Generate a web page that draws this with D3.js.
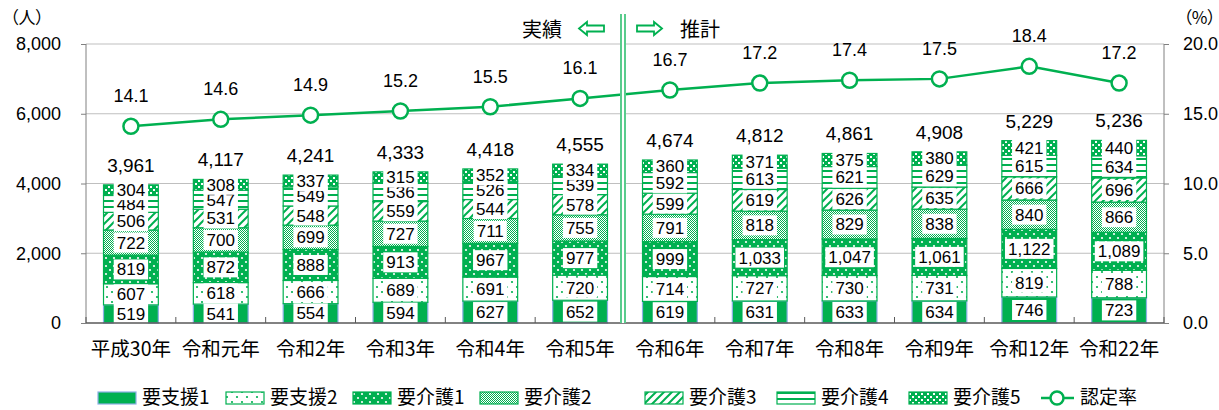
<!DOCTYPE html>
<html>
<head>
<meta charset="utf-8">
<script src="https://cdn.jsdelivr.net/npm/d3@7"></script>
<style>
  body { margin: 0; background: #fff; }
  svg { display: block; }
  .num { font-family: "Liberation Sans", Arial, sans-serif; }
  .jp { font-family: "Noto Sans CJK JP", sans-serif; }
  .palt { font-feature-settings: "palt"; }
</style>
</head>
<body>
<div id="chart"></div>
<script>
const years = ["平成30年", "令和元年", "令和2年", "令和3年", "令和4年", "令和5年",
  "令和6年", "令和7年", "令和8年", "令和9年", "令和12年", "令和22年"];
const levels = ["要支援1", "要支援2", "要介護1", "要介護2", "要介護3", "要介護4", "要介護5"];

const shien1 = [519, 541, 554, 594, 627, 652, 619, 631, 633, 634, 746, 723];
const shien2 = [607, 618, 666, 689, 691, 720, 714, 727, 730, 731, 819, 788];
const kaigo1 = [819, 872, 888, 913, 967, 977, 999, 1033, 1047, 1061, 1122, 1089];
const kaigo2 = [722, 700, 699, 727, 711, 755, 791, 818, 829, 838, 840, 866];
const kaigo3 = [506, 531, 548, 559, 544, 578, 599, 619, 626, 635, 666, 696];
const kaigo4 = [484, 547, 549, 536, 526, 539, 592, 613, 621, 629, 615, 634];
const kaigo5 = [304, 308, 337, 315, 352, 334, 360, 371, 375, 380, 421, 440];
const totals = [3961, 4117, 4241, 4333, 4418, 4555, 4674, 4812, 4861, 4908, 5229, 5236];
const rate = [14.1, 14.6, 14.9, 15.2, 15.5, 16.1, 16.7, 17.2, 17.4, 17.5, 18.4, 17.2];

const leftTicks = [0, 2000, 4000, 6000, 8000];
const rightTicks = [0, 5, 10, 15, 20];

const series = [shien1, shien2, kaigo1, kaigo2, kaigo3, kaigo4, kaigo5];
const rows = years.map((y, i) => {
  const r = { year: y };
  levels.forEach((k, j) => r[k] = series[j][i]);
  return r;
});

const width = 1219, height = 410;
const green = "#00b050";

const svg = d3.select("#chart").append("svg")
  .attr("width", width).attr("height", height);

// patterns
const defs = svg.append("defs");
function pat(id, w, h) {
  return defs.append("pattern").attr("id", id)
    .attr("patternUnits", "userSpaceOnUse").attr("width", w).attr("height", h);
}
// 要支援2: white with sparse green dots
let p = pat("p1", 10, 10);
p.append("rect").attr("width", 10).attr("height", 10).attr("fill", "#fff");
p.append("circle").attr("cx", 2).attr("cy", 2).attr("r", 1.1).attr("fill", green);
p.append("circle").attr("cx", 7).attr("cy", 7).attr("r", 1.1).attr("fill", green);
// 要介護1: green with white dots
p = pat("p2", 8, 8);
p.append("rect").attr("width", 8).attr("height", 8).attr("fill", green);
p.append("circle").attr("cx", 2).attr("cy", 2).attr("r", 1.1).attr("fill", "#fff");
p.append("circle").attr("cx", 6).attr("cy", 6).attr("r", 1.1).attr("fill", "#fff");
// 要介護2: fine mesh
p = pat("p3", 2, 2);
p.append("rect").attr("width", 2).attr("height", 2).attr("fill", "#fff");
p.append("rect").attr("width", 1).attr("height", 1).attr("fill", green);
p.append("rect").attr("x", 1).attr("y", 1).attr("width", 1).attr("height", 1).attr("fill", green);
// 要介護3: diagonal stripes
p = pat("p4", 8, 8);
p.append("rect").attr("width", 8).attr("height", 8).attr("fill", "#fff");
p.append("path").attr("d", "M-2,2 L2,-2 M0,8 L8,0 M6,10 L10,6")
  .attr("stroke", green).attr("stroke-width", 2);
// 要介護4: horizontal lines
p = pat("p5", 6, 6);
p.append("rect").attr("width", 6).attr("height", 6).attr("fill", "#fff");
p.append("rect").attr("y", 2).attr("width", 6).attr("height", 2).attr("fill", green);
// 要介護5: green with white small checks
p = pat("p6", 6, 6);
p.append("rect").attr("width", 6).attr("height", 6).attr("fill", green);
p.append("rect").attr("x", 0).attr("y", 0).attr("width", 2).attr("height", 2).attr("fill", "#fff");
p.append("rect").attr("x", 3).attr("y", 3).attr("width", 2).attr("height", 2).attr("fill", "#fff");

const fills = [green, "url(#p1)", "url(#p2)", "url(#p3)", "url(#p4)", "url(#p5)", "url(#p6)"];
const strokes = ["#8cb0e4", green, green, green, green, green, green];

const x = d3.scaleBand().domain(years).range([86, 1164]).padding(0);
const barW = x.bandwidth() * 0.61;
const y = d3.scaleLinear().domain([0, 8000]).range([323, 44]);
const yR = d3.scaleLinear().domain([0, 20]).range([323, 44]);

// gridlines
svg.append("g").selectAll("line").data(leftTicks.slice(1)).join("line")
  .attr("x1", 86).attr("x2", 1164)
  .attr("y1", d => y(d)).attr("y2", d => y(d))
  .attr("stroke", "#bfbfbf").attr("stroke-width", 1);

// stacked bars
const stack = d3.stack().keys(levels)(rows);
const layer = svg.append("g").selectAll("g").data(stack).join("g")
  .attr("fill", (d, i) => fills[i])
  .attr("stroke", (d, i) => strokes[i])
  .attr("stroke-width", 1.2);
layer.selectAll("rect").data(d => d).join("rect")
  .attr("x", d => x(d.data.year) + (x.bandwidth() - barW) / 2)
  .attr("width", barW)
  .attr("y", d => y(d[1]))
  .attr("height", d => y(d[0]) - y(d[1]));

// segment labels
const lab = svg.append("g").attr("class", "num").attr("font-size", 17);
stack.forEach(s => {
  s.forEach(d => {
    const cx = x(d.data.year) + x.bandwidth() / 2;
    const cy = (y(d[0]) + y(d[1])) / 2;
    const g = lab.append("g");
    const t = g.append("text").attr("x", cx).attr("y", cy + 6)
      .attr("text-anchor", "middle").attr("fill", "#000")
      .text(d3.format(",")(d[1] - d[0]));
    const b = t.node().getBBox();
    g.insert("rect", "text").attr("x", b.x - 3).attr("y", cy - 10)
      .attr("width", b.width + 6).attr("height", 20).attr("fill", "#fff");
  });
});

// totals
svg.append("g").attr("class", "num").attr("font-size", 19)
  .selectAll("text").data(totals).join("text")
  .attr("x", (d, i) => x(years[i]) + x.bandwidth() / 2)
  .attr("y", d => y(d) - 13)
  .attr("text-anchor", "middle").attr("fill", "#000")
  .text(d => d3.format(",")(d));

// axes
const axL = svg.append("g").attr("transform", "translate(86,0)")
  .call(d3.axisLeft(y).tickValues(leftTicks).tickFormat(d3.format(",")).tickSize(5).tickPadding(20));
const axR = svg.append("g").attr("transform", "translate(1164,0)")
  .call(d3.axisRight(yR).tickValues(rightTicks).tickFormat(d3.format(".1f")).tickSize(5).tickPadding(14));
[axL, axR].forEach(a => {
  a.select(".domain").attr("stroke", "#808080");
  a.selectAll(".tick line").attr("stroke", "#808080");
  a.selectAll("text").attr("class", "num").attr("font-size", 18).attr("fill", "#000");
});
axL.select(".domain").attr("d", "M0,44V323");
axR.select(".domain").attr("d", "M0,44V323");

// bottom axis
svg.append("line").attr("x1", 86).attr("x2", 1164).attr("y1", 323).attr("y2", 323)
  .attr("stroke", "#595959").attr("stroke-width", 1.5);
svg.append("g").selectAll("line").data(d3.range(years.length + 1)).join("line")
  .attr("x1", i => 86 + i * x.bandwidth()).attr("x2", i => 86 + i * x.bandwidth())
  .attr("y1", 323).attr("y2", 317).attr("stroke", "#595959");
svg.append("g").attr("class", "jp").attr("font-size", 19.5)
  .selectAll("text").data(years).join("text")
  .attr("x", d => x(d) + x.bandwidth() / 2).attr("y", 356)
  .attr("text-anchor", "middle").attr("fill", "#000").text(d => d);

// rate line
const line = d3.line().x((d, i) => x(years[i]) + x.bandwidth() / 2).y(d => yR(d));
svg.append("path").datum(rate).attr("d", line)
  .attr("fill", "none").attr("stroke", green).attr("stroke-width", 2.5);
svg.append("g").selectAll("circle").data(rate).join("circle")
  .attr("cx", (d, i) => x(years[i]) + x.bandwidth() / 2).attr("cy", d => yR(d))
  .attr("r", 7.5).attr("fill", "#fff").attr("stroke", green).attr("stroke-width", 2.5);
svg.append("g").attr("class", "num").attr("font-size", 18)
  .selectAll("text").data(rate).join("text")
  .attr("x", (d, i) => x(years[i]) + x.bandwidth() / 2).attr("y", d => yR(d) - 24)
  .attr("text-anchor", "middle").attr("fill", "#000").text(d => d.toFixed(1));

// divider between actual and projection
const sep = x(years[6]) - 2;
svg.append("rect").attr("x", sep - 3).attr("y", 14).attr("width", 6).attr("height", 309).attr("fill", "#fff");
[sep - 2, sep + 2].forEach(px => svg.append("line")
  .attr("x1", px).attr("x2", px).attr("y1", 14).attr("y2", 323)
  .attr("stroke", green).attr("stroke-width", 1.3));

// header
svg.append("text").attr("class", "jp").attr("font-size", 20).attr("x", 542).attr("y", 37)
  .attr("text-anchor", "middle").attr("fill", "#000").text("実績");
svg.append("text").attr("class", "jp").attr("font-size", 20).attr("x", 700).attr("y", 37)
  .attr("text-anchor", "middle").attr("fill", "#000").text("推計");
const arrowL = "M0,6.5 L8,0 L8,3.5 L25,3.5 L25,9.5 L8,9.5 L8,13 Z";
svg.append("path").attr("d", arrowL).attr("transform", "translate(579,22)")
  .attr("fill", "#fff").attr("stroke", green).attr("stroke-width", 1.8);
svg.append("path").attr("d", arrowL).attr("transform", "translate(662,22) scale(-1,1)")
  .attr("fill", "#fff").attr("stroke", green).attr("stroke-width", 1.8);

// unit labels
svg.append("text").attr("class", "jp palt").attr("font-size", 17).attr("x", 10).attr("y", 24)
  .attr("fill", "#000").text("（人）");
svg.append("text").attr("class", "jp palt").attr("font-size", 17).attr("x", 1216).attr("y", 24)
  .attr("text-anchor", "end").attr("fill", "#000").text("（%）");

// legend
const legX = [98, 226, 353, 480, 645, 777, 909];
const leg = svg.append("g");
levels.forEach((k, i) => {
  leg.append("rect").attr("x", legX[i]).attr("y", 392).attr("width", 38).attr("height", 12)
    .attr("fill", fills[i]).attr("stroke", strokes[i]).attr("stroke-width", 1.2);
  leg.append("text").attr("class", "jp").attr("font-size", 19)
    .attr("x", legX[i] + 44).attr("y", 404).attr("fill", "#000").text(k);
});
leg.append("line").attr("x1", 1041).attr("x2", 1074).attr("y1", 398).attr("y2", 398)
  .attr("stroke", green).attr("stroke-width", 2.5);
leg.append("circle").attr("cx", 1057).attr("cy", 398).attr("r", 6.5)
  .attr("fill", "#fff").attr("stroke", green).attr("stroke-width", 2.5);
leg.append("text").attr("class", "jp").attr("font-size", 19)
  .attr("x", 1080).attr("y", 404).attr("fill", "#000").text("認定率");
</script>
</body>
</html>
